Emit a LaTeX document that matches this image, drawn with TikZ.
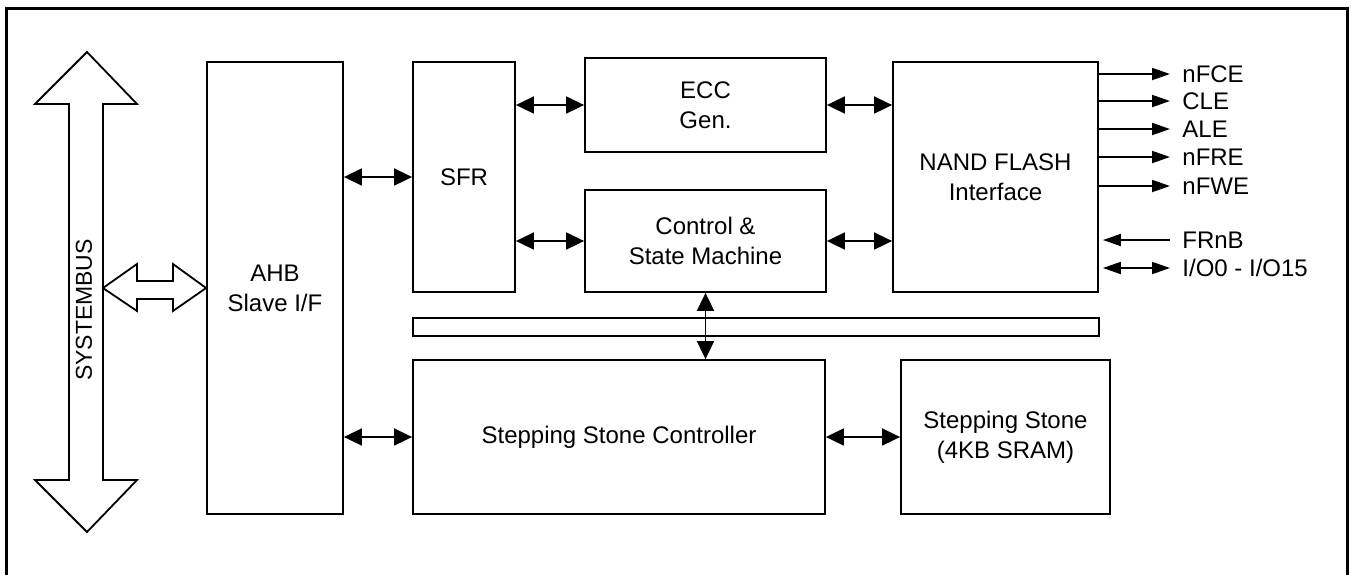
\documentclass[tikz,border=0pt]{standalone}
\usepackage{fontspec}
\setmainfont{Liberation Sans}
\usetikzlibrary{positioning, arrows.meta}
\tikzset{
  block/.style    = {draw, line width=0.9pt, fill=white, align=center, inner sep=0pt, font=\fontsize{12}{15}\selectfont},
  link/.style     = {{Triangle[length=9pt,width=8.5pt]}-{Triangle[length=9pt,width=8.5pt]}, line width=0.9pt},
  sigout/.style   = {-{Triangle[length=9pt,width=6pt]}, line width=0.9pt},
  sigboth/.style  = {{Triangle[length=9pt,width=6pt]}-{Triangle[length=9pt,width=6pt]}, line width=0.9pt},
  siglabel/.style = {anchor=west, inner sep=6pt, text height=8.6pt, text depth=0pt, font=\fontsize{12}{15}\selectfont}
}

\begin{document}
\begin{tikzpicture}[x=0.5pt, y=-0.5pt]
  \useasboundingbox (0,0) rectangle (1351,574);
  \draw[line width=1.5pt] (6.5,590) -- (6.5,8.5) -- (1347.5,8.5) -- (1347.5,590);

  % system bus
  \draw[line width=0.9pt, fill=white] (87,52) -- (137,104) -- (103,104) -- (103,480) -- (137,480) -- (87,532)
    -- (35,480) -- (69,480) -- (69,104) -- (35,104) -- cycle;
  \node[rotate=90, font=\fontsize{11.5}{14}\selectfont, inner sep=0pt] (sysbus) at (84,310) {SYSTEMBUS};

  % blocks
  \node[block, minimum width=68pt, minimum height=226pt] (ahb) at (275,288) {AHB\\Slave I/F};
  \node[block, minimum width=51pt, minimum height=115pt] (sfr) at (464,177) {SFR};
  \node[block, minimum width=120.5pt, minimum height=47pt] (ecc) at (705.5,105) {ECC\\Gen.};
  \node[block, minimum width=120.5pt, minimum height=51pt] (ctl) at (705.5,241) {Control \&\\State Machine};
  \node[block, minimum width=102.5pt, minimum height=115pt] (nand) at (995.5,177) {NAND FLASH\\Interface};
  \node[block, minimum width=343pt, minimum height=9pt] (bus) at (756,327) {};
  \node[block, minimum width=206pt, minimum height=77pt] (ssc) at (619,437) {Stepping Stone Controller};
  \node[block, minimum width=104.5pt, minimum height=77pt] (ss) at (1005.5,437) {Stepping Stone\\(4KB SRAM)};

  % bus to AHB
  \draw[line width=0.9pt, fill=white] (103,288) -- (137,264) -- (137,281) -- (173,281) -- (173,264) -- (ahb.west)
    -- (173,311) -- (173,299) -- (137,299) -- (137,311) -- cycle;

  % links
  \draw[link] (ahb.east |- sfr) -- (sfr.west);
  \draw[link] (sfr.east |- ecc) -- (ecc.west);
  \draw[link] (sfr.east |- ctl) -- (ctl.west);
  \draw[link] (ecc.east) -- (nand.west |- ecc);
  \draw[link] (ctl.east) -- (nand.west |- ctl);
  \draw[link] (ctl.south) -- (ssc.north -| ctl.south);
  \draw[link] (ahb.east |- ssc) -- (ssc.west);
  \draw[link] (ssc.east) -- (ss.west);

  % nand signals
  \node[siglabel] (nfce) at (1170,74) {nFCE};
  \node[siglabel] (cle) at (1170,101) {CLE};
  \node[siglabel] (ale) at (1170,129) {ALE};
  \node[siglabel] (nfre) at (1170,157) {nFRE};
  \node[siglabel] (nfwe) at (1170,186) {nFWE};
  \node[siglabel] (frnb) at (1170,240) {FRnB};
  \node[siglabel] (io) at (1170,268) {I/O0 - I/O15};

  \draw[sigout] (nand.east |- nfce.west) -- (nfce.west);
  \draw[sigout] (nand.east |- cle.west) -- (cle.west);
  \draw[sigout] (nand.east |- ale.west) -- (ale.west);
  \draw[sigout] (nand.east |- nfre.west) -- (nfre.west);
  \draw[sigout] (nand.east |- nfwe.west) -- (nfwe.west);
  \draw[sigout, shorten >=2pt] (frnb.west) -- (nand.east |- frnb.west);
  \draw[sigboth, shorten <=2pt] (nand.east |- io.west) -- (io.west);
\end{tikzpicture}
\end{document}
